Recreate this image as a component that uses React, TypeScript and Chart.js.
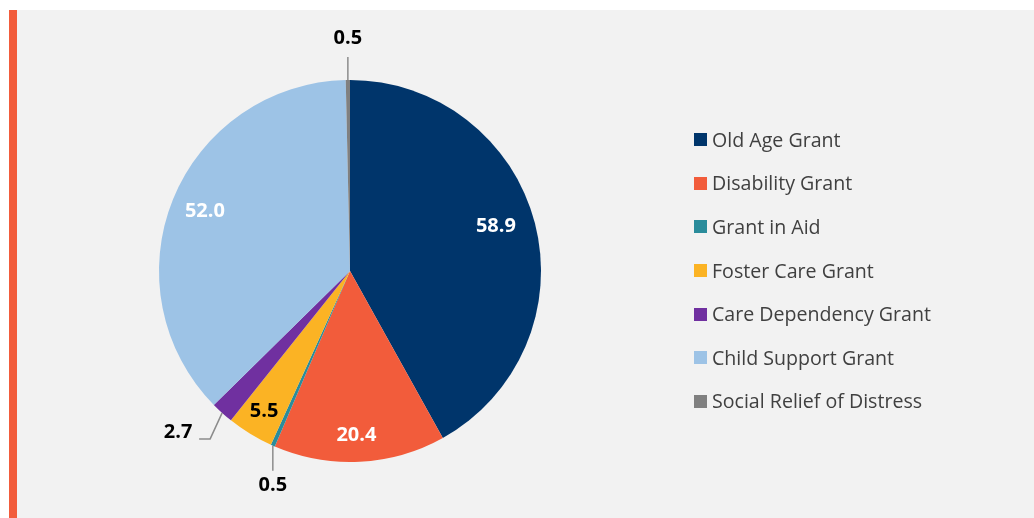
import React, { useEffect, useRef } from "react";
import { Chart, registerables } from "chart.js";

Chart.register(...registerables);

const categories = [
  "Old Age Grant",
  "Disability Grant",
  "Grant in Aid",
  "Foster Care Grant",
  "Care Dependency Grant",
  "Child Support Grant",
  "Social Relief of Distress",
];
const values = [58.9, 20.4, 0.5, 5.5, 2.7, 52.0, 0.5];
const valueLabels = ["58.9", "20.4", "0.5", "5.5", "2.7", "52.0", "0.5"];
const colors = ["#00356b", "#f25c3b", "#2a8c9b", "#fbb324", "#7030a0", "#9dc3e6", "#808080"];

// label placement styles (per slice)
type LabelStyle =
  | { kind: "inside"; f: number; color: string; dx?: number; dy?: number }
  | { kind: "outside"; path: [number, number][]; text: [number, number] };
const labelStyles: LabelStyle[] = [
  { kind: "inside", f: 0.8, color: "#ffffff", dx: -2, dy: -6 },
  { kind: "inside", f: 0.86, color: "#ffffff", dx: -2, dy: 0 },
  { kind: "outside", path: [[0, 0], [0, 25]], text: [0, 40] },
  { kind: "inside", f: 0.86, color: "#000000" },
  { kind: "outside", path: [[0, 0], [-12, 26], [-23, 26]], text: [-44, 19] },
  { kind: "inside", f: 0.82, color: "#ffffff", dy: -1 },
  { kind: "outside", path: [[0, 0], [0, -23]], text: [0, -42] },
];

const labelPlugin = {
  id: "sliceLabels",
  afterDatasetsDraw(chart: any) {
    const ctx = chart.ctx;
    const meta = chart.getDatasetMeta(0);
    ctx.save();
    ctx.font = "bold 20px 'Open Sans'";
    ctx.textAlign = "center";
    ctx.textBaseline = "middle";
    meta.data.forEach((arc: any, i: number) => {
      const { x, y, startAngle, endAngle, outerRadius } = arc.getProps(
        ["x", "y", "startAngle", "endAngle", "outerRadius"],
        true
      );
      const mid = (startAngle + endAngle) / 2;
      const st = labelStyles[i];
      if (st.kind === "inside") {
        const r = outerRadius * st.f;
        ctx.fillStyle = st.color;
        ctx.fillText(
          valueLabels[i],
          x + Math.cos(mid) * r + (st.dx || 0),
          y + Math.sin(mid) * r + (st.dy || 0)
        );
      } else {
        const ex = x + Math.cos(mid) * outerRadius;
        const ey = y + Math.sin(mid) * outerRadius;
        ctx.strokeStyle = "#8c8c8c";
        ctx.lineWidth = 1.5;
        ctx.beginPath();
        st.path.forEach(([dx, dy], k) => {
          if (k === 0) ctx.moveTo(ex + dx, ey + dy);
          else ctx.lineTo(ex + dx, ey + dy);
        });
        ctx.stroke();
        ctx.fillStyle = "#000000";
        ctx.fillText(valueLabels[i], ex + st.text[0], ey + st.text[1]);
      }
    });
    ctx.restore();
  },
};

export default function App() {
  const ref = useRef<HTMLCanvasElement>(null);
  useEffect(() => {
    if (!ref.current) return;
    const chart = new Chart(ref.current, {
      type: "pie",
      data: {
        labels: categories,
        datasets: [
          {
            data: values,
            backgroundColor: colors,
            borderWidth: 0,
          },
        ],
      },
      options: {
        responsive: false,
        animation: false,
        layout: { padding: { top: 70, bottom: 56, left: 141, right: 493 } },
        plugins: {
          legend: { display: false },
          tooltip: { enabled: false },
        },
      },
      plugins: [labelPlugin],
    });
    return () => chart.destroy();
  }, []);

  return (
    <div style={{ position: "absolute", left: 0, top: 0, width: 1034, height: 518, background: "#ffffff", overflow: "hidden" }}>
      <div style={{ position: "absolute", left: 9, top: 10, width: 8, height: 508, background: "#f25c3b" }} />
      <div style={{ position: "absolute", left: 17, top: 10, width: 1017, height: 508, background: "#f2f2f2" }} />
      <canvas
        ref={ref}
        width={1016}
        height={508}
        style={{ position: "absolute", left: 18, top: 10, width: 1016, height: 508 }}
      />
      <div style={{ position: "absolute", left: 694, top: 118, fontFamily: "'Open Sans'", fontSize: 19.6, color: "#404040" }}>
        {categories.map((c, i) => (
          <div key={c} style={{ display: "flex", alignItems: "center", height: 43.6 }}>
            <span style={{ display: "inline-block", width: 13, height: 13, background: colors[i], marginRight: 5 }} />
            <span style={{ lineHeight: "22px", whiteSpace: "nowrap" }}>{c}</span>
          </div>
        ))}
      </div>
    </div>
  );
}
